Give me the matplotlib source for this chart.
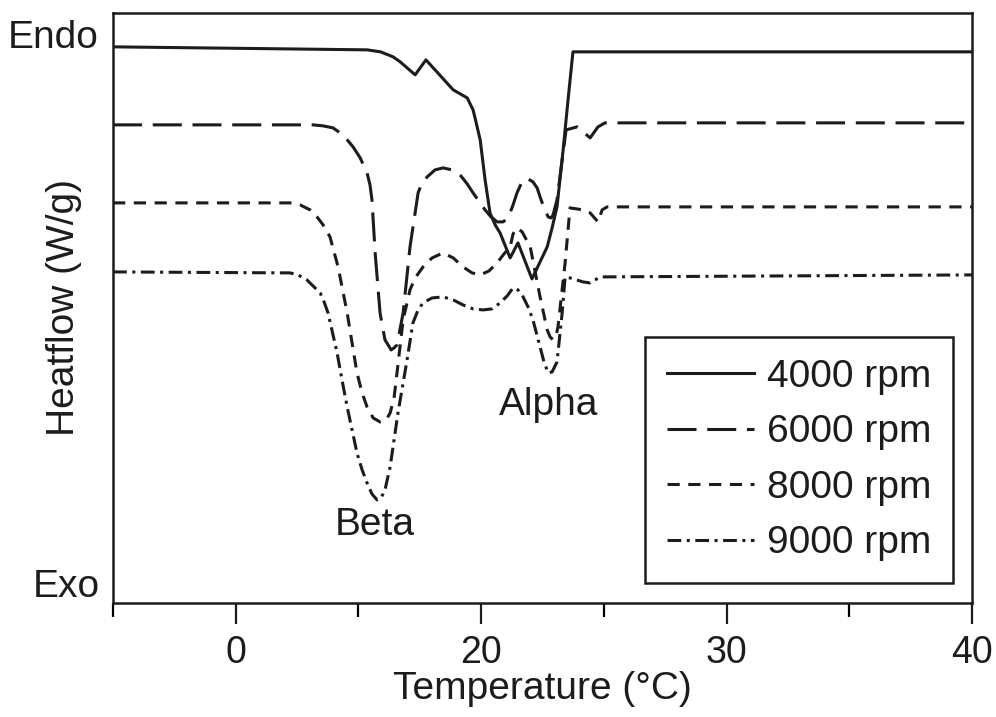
import numpy as np
from matplotlib import pyplot as plt

plt.rcParams['font.family'] = ['Liberation Sans', 'DejaVu Sans']

# temperature (C) and heat flow (arbitrary units, endo up)
t_4000 = [5.0, 15.35, 15.9, 16.41, 16.7, 17.31, 17.75, 18.86, 19.43, 19.67, 19.75, 19.96,
          20.16, 20.36, 20.57, 20.77, 21.18, 21.5, 22.07, 22.69, 22.89, 23.09, 23.34, 23.54,
          23.74, 40.0]
hf_4000 = [55.6, 55.3, 55.1, 54.6, 54.1, 52.8, 54.3, 51.3, 50.5, 49.3, 48.5, 46.3,
           42.3, 39.0, 37.8, 37.0, 34.5, 36.0, 32.4, 35.6, 37.5, 39.6, 45.3, 50.3,
           55.1, 55.1]

t_6000 = [5.0, 13.15, 13.56, 13.96, 14.37, 14.78, 15.07, 15.35, 15.47, 15.55, 15.68, 15.88,
          16.08, 16.21, 16.33, 16.45, 16.57, 16.82, 17.1, 17.43, 17.59, 17.8, 18.12, 18.45,
          18.81, 19.14, 19.43, 19.67, 20.16, 20.4, 20.65, 20.89, 21.1, 21.3, 21.46, 21.59,
          21.71, 21.91, 22.11, 22.28, 22.4, 22.56, 22.73, 22.85, 22.93, 23.09, 23.3, 23.46,
          23.91, 24.44, 24.76, 25.05, 40.0]
hf_6000 = [47.8, 47.8, 47.7, 47.5, 46.8, 45.6, 44.5, 43.0, 41.8, 40.3, 35.0, 29.0,
           26.3, 25.8, 25.3, 25.5, 25.8, 29.0, 35.6, 41.0, 42.0, 42.6, 43.3, 43.5,
           43.3, 42.8, 41.9, 41.0, 39.3, 38.6, 38.1, 38.1, 38.5, 39.8, 41.0, 41.7,
           42.3, 42.4, 42.1, 41.5, 40.6, 39.5, 38.6, 38.5, 38.8, 40.3, 44.3, 47.3,
           47.6, 46.5, 47.6, 48.0, 48.0]

t_8000 = [5.0, 12.21, 12.62, 13.03, 13.31, 13.56, 13.84, 14.17, 14.54, 14.74, 14.94, 15.15,
          15.35, 15.6, 15.88, 16.13, 16.29, 16.45, 16.57, 16.82, 17.1, 17.31, 17.63, 18.0,
          18.45, 18.86, 19.26, 19.63, 19.96, 20.32, 20.65, 20.93, 21.18, 21.3, 21.46, 21.67,
          22.0, 22.2, 22.4, 22.69, 22.81, 22.93, 23.05, 23.13, 23.42, 23.62, 24.15, 24.44,
          24.76, 24.93, 25.13, 40.0]
hf_8000 = [40.0, 40.0, 39.8, 39.3, 38.6, 37.8, 36.6, 33.6, 29.0, 26.0, 23.0, 21.0,
           19.6, 18.5, 18.1, 18.3, 19.0, 20.5, 23.0, 28.3, 31.3, 32.5, 33.6, 34.5,
           35.0, 34.5, 33.6, 33.0, 32.8, 33.2, 34.0, 34.9, 35.6, 36.9, 37.5, 37.1,
           35.6, 33.1, 30.6, 27.3, 26.6, 26.3, 26.7, 27.6, 34.0, 39.5, 39.3, 39.0,
           38.1, 39.3, 39.6, 39.6]

t_9000 = [5.0, 12.21, 12.54, 12.9, 13.19, 13.44, 13.6, 13.76, 14.13, 14.33, 14.54, 14.94,
          15.15, 15.35, 15.55, 15.76, 15.92, 16.08, 16.29, 16.45, 16.61, 16.98, 17.22, 17.43,
          17.63, 18.0, 18.45, 18.86, 19.26, 19.67, 20.08, 20.44, 20.77, 21.06, 21.3, 21.5,
          21.71, 21.91, 22.11, 22.4, 22.56, 22.73, 22.89, 23.09, 23.3, 23.42, 23.62, 24.15,
          24.44, 24.85, 40.0]
hf_9000 = [33.1, 33.0, 32.8, 32.3, 31.6, 31.0, 30.1, 29.0, 25.0, 22.3, 19.6, 15.0,
           13.3, 12.0, 10.9, 10.3, 10.5, 11.3, 13.6, 16.3, 19.0, 24.3, 28.0, 29.3,
           30.0, 30.5, 30.6, 30.3, 29.8, 29.4, 29.3, 29.4, 30.0, 30.7, 31.5, 31.3,
           30.6, 29.6, 28.3, 25.6, 24.1, 23.0, 23.1, 24.1, 29.0, 32.6, 32.5, 32.1,
           32.0, 32.6, 32.8]

labels = ['4000 rpm', '6000 rpm', '8000 rpm', '9000 rpm']
tick_pos = [10, 20, 30, 40]
tick_txt = ['0', '20', '30', '40']

ink = '#1c1c1c'
lw = 2.2
dashes = [None, (9.5, 3.5), (4, 2.8), (4.5, 1.8, 1.0, 1.8)]

fig = plt.figure(figsize=(9.96, 7.17), dpi=100)
ax = fig.add_axes([0.1135, 0.159, 0.8624, 0.8231])

series = [(t_4000, hf_4000), (t_6000, hf_6000), (t_8000, hf_8000), (t_9000, hf_9000)]
handles = []
for (t, hf), lab, d in zip(series, labels, dashes):
    ln, = ax.plot(t, hf, color=ink, lw=lw, label=lab,
                  solid_joinstyle='round', dash_joinstyle='round')
    if d is not None:
        ln.set_dashes(d)
    handles.append(ln)

ax.set_xlim(5, 40)
ax.set_ylim(0, 59)
ax.set_xticks(tick_pos)
ax.set_xticklabels(tick_txt)
ax.set_xticks([5, 15, 25, 35], minor=True)
ax.set_yticks([])
ax.tick_params(axis='x', which='major', length=15, width=1.6, direction='out',
               labelsize=27, colors=ink, pad=8)
ax.tick_params(axis='x', which='minor', length=10, width=1.6, direction='out')
for s in ax.spines.values():
    s.set_linewidth(1.8)
    s.set_color(ink)

ax.set_xlabel('Temperature (\u00b0C)', fontsize=28, color=ink, labelpad=0)
ax.set_ylabel('Heatflow (W/g)', fontsize=28, color=ink, labelpad=22)

ax.text(4.4, 56.5, 'Endo', fontsize=28, color=ink, ha='right', va='center', clip_on=False)
ax.text(4.47, 1.6, 'Exo', fontsize=28, color=ink, ha='right', va='center', clip_on=False)
ax.text(15.68, 7.8, 'Beta', fontsize=28, color=ink, ha='center', va='center')
ax.text(22.73, 19.8, 'Alpha', fontsize=28, color=ink, ha='center', va='center')

leg = ax.legend(handles=handles, loc='lower right', bbox_to_anchor=(0.978, 0.034),
                fontsize=28, frameon=True, fancybox=False, framealpha=1,
                handlelength=2.24, handletextpad=0.33, labelspacing=0.5,
                borderpad=0.56, borderaxespad=0)
leg.get_frame().set_edgecolor(ink)
leg.get_frame().set_linewidth(1.8)
for txt in leg.get_texts():
    txt.set_color(ink)

fig.savefig('out.png', dpi=100)
